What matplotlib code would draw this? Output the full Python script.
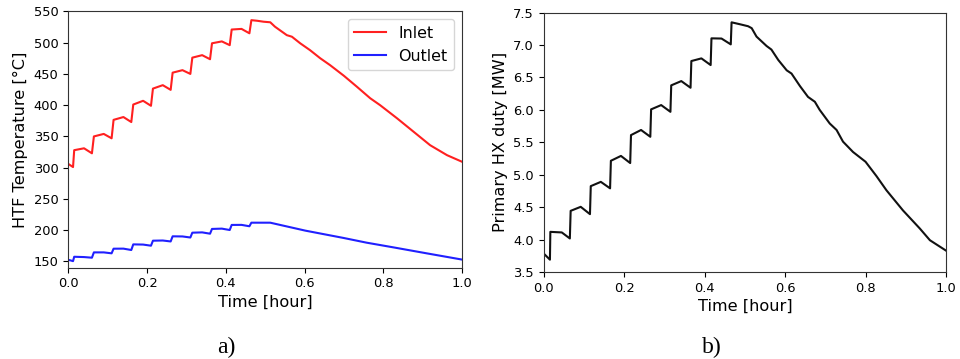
import matplotlib
matplotlib.use("Agg")
import matplotlib.pyplot as plt

# ---- data ----
inlet_time = [0.000, 0.012, 0.015, 0.040, 0.060, 0.065, 0.090, 0.110, 0.115, 0.140, 0.160,
              0.165, 0.190, 0.210, 0.215, 0.240, 0.260, 0.265, 0.290, 0.310, 0.315, 0.340,
              0.360, 0.365, 0.390, 0.410, 0.415, 0.440, 0.460, 0.465, 0.480, 0.496, 0.513,
              0.525, 0.555, 0.568, 0.589, 0.614, 0.640, 0.665, 0.700, 0.733, 0.767, 0.792,
              0.835, 0.877, 0.919, 0.962, 1.000]
inlet_temp = [306, 301, 328, 331, 323, 350, 354, 347, 376.5, 381, 373,
              401, 407, 399, 426.5, 432, 424.5, 452, 456, 450, 476, 480,
              473.5, 499, 502, 496, 521, 522, 515, 536, 535, 533.5, 532.6,
              525.5, 512, 509.5, 499, 488, 475, 464, 447, 429.5, 411, 400,
              379, 357.5, 336, 320, 309.5]

outlet_time = [0.000, 0.012, 0.015, 0.040, 0.060, 0.065, 0.090, 0.110, 0.115, 0.140, 0.160,
               0.165, 0.190, 0.210, 0.215, 0.240, 0.260, 0.265, 0.290, 0.310, 0.315, 0.340,
               0.360, 0.365, 0.390, 0.410, 0.415, 0.440, 0.460, 0.465, 0.513, 0.602, 0.699,
               0.758, 0.826, 0.911, 1.000]
outlet_temp = [152.7, 150.5, 157.5, 157, 156, 164.5, 164.5, 163, 170.4, 170.5, 168.3,
               177.3, 177, 175.2, 183.2, 183.5, 182, 190.2, 190, 188.3, 196, 196.5,
               194.4, 202, 202.5, 200.3, 208.4, 208.5, 206.3, 212, 212, 199.3, 187.6,
               180, 172.5, 162.9, 153]

duty_time = [0.000, 0.0155, 0.0165, 0.045, 0.065, 0.067, 0.092, 0.115, 0.117, 0.142, 0.165,
             0.167, 0.192, 0.215, 0.217, 0.242, 0.265, 0.267, 0.292, 0.315, 0.317, 0.342,
             0.365, 0.367, 0.392, 0.415, 0.417, 0.442, 0.465, 0.467, 0.488, 0.508, 0.517,
             0.529, 0.554, 0.566, 0.583, 0.604, 0.616, 0.637, 0.657, 0.674, 0.686, 0.711,
             0.728, 0.744, 0.769, 0.800, 0.827, 0.852, 0.893, 0.935, 0.960, 1.000]
duty_mw = [3.785, 3.69, 4.119, 4.11, 4.017, 4.443, 4.505, 4.392, 4.824, 4.89, 4.79,
           5.215, 5.29, 5.18, 5.611, 5.69, 5.585, 6.008, 6.074, 5.97, 6.378, 6.444,
           6.341, 6.753, 6.794, 6.691, 7.103, 7.10, 7.01, 7.35, 7.32, 7.29, 7.26,
           7.13, 6.985, 6.93, 6.77, 6.61, 6.56, 6.367, 6.20, 6.125, 6.0, 5.79,
           5.69, 5.51, 5.35, 5.20, 4.98, 4.76, 4.45, 4.17, 3.99, 3.83]

x_ticks = [0.0, 0.2, 0.4, 0.6, 0.8, 1.0]
temp_ticks = [150, 200, 250, 300, 350, 400, 450, 500, 550]
duty_ticks = [3.5, 4.0, 4.5, 5.0, 5.5, 6.0, 6.5, 7.0, 7.5]

plt.rcParams['font.family'] = ['DejaVu Sans']

fig = plt.figure(figsize=(9.6, 3.59), dpi=100)

W, H = 960.0, 359.0
def px_axes(x0, x1, ytop, ybot):
    return fig.add_axes([x0 / W, (H - ybot) / H, (x1 - x0) / W, (ybot - ytop) / H])

ax1 = px_axes(68.3, 462.0, 11.4, 267.7)
ax2 = px_axes(543.7, 946.0, 12.6, 272.0)

ax1.plot(inlet_time, inlet_temp, color='#ff2020', lw=1.5, label='Inlet')
ax1.plot(outlet_time, outlet_temp, color='#2020ff', lw=1.5, label='Outlet')
ax1.set_xlim(0, 1.0)
ax1.set_ylim(140, 550)
ax1.set_xticks(x_ticks)
ax1.set_yticks(temp_ticks)
ax1.set_xlabel('Time [hour]', fontsize=11.6, labelpad=3)
ax1.set_ylabel('HTF Temperature [°C]', fontsize=11.6, labelpad=4)
ax1.tick_params(labelsize=9.4)
ax1.legend(loc='upper right', fontsize=11.4)

ax2.plot(duty_time, duty_mw, color='#111111', lw=1.5)
ax2.set_xlim(0, 1.0)
ax2.set_ylim(3.5, 7.5)
ax2.set_xticks(x_ticks)
ax2.set_yticks(duty_ticks)
ax2.set_xlabel('Time [hour]', fontsize=11.6, labelpad=3)
ax2.set_ylabel('Primary HX duty [MW]', fontsize=11.6, labelpad=4)
ax2.tick_params(labelsize=9.4)

for ax in (ax1, ax2):
    for s in ax.spines.values():
        s.set_color('#333333')

fig.text(226.7 / W, 1 - 347 / H, 'a)', family='Liberation Serif', fontsize=17,
         ha='center', va='center')
fig.text(712 / W, 1 - 347 / H, 'b)', family='Liberation Serif', fontsize=17,
         ha='center', va='center')

fig.savefig('out.png', dpi=100)
